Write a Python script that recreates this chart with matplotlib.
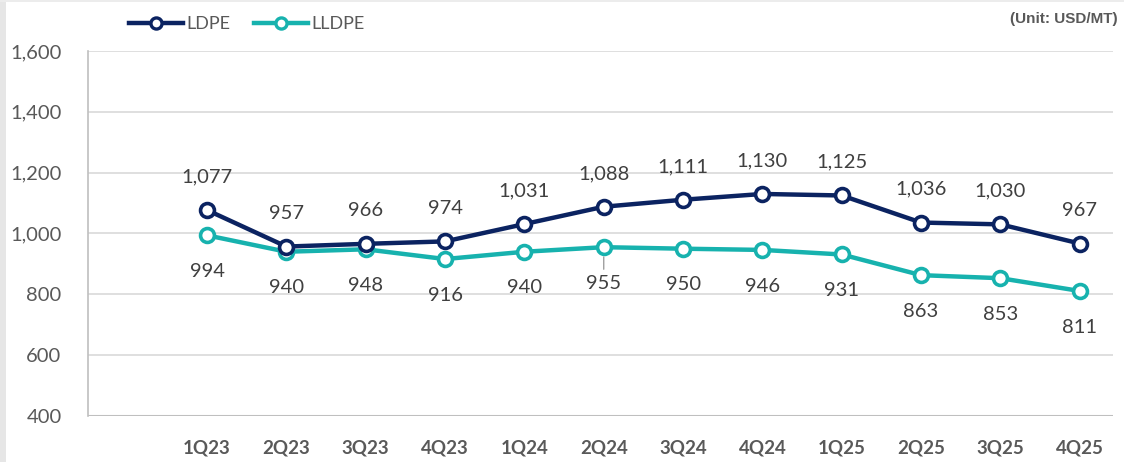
import matplotlib
matplotlib.use('agg')
import matplotlib.pyplot as plt
from matplotlib.lines import Line2D
from matplotlib.patches import Rectangle

# quarters and prices (USD/MT)
quarters = ['1Q23', '2Q23', '3Q23', '4Q23', '1Q24', '2Q24', '3Q24', '4Q24',
            '1Q25', '2Q25', '3Q25', '4Q25']
ldpe = [1077, 957, 966, 974, 1031, 1088, 1111, 1130, 1125, 1036, 1030, 967]
lldpe = [994, 940, 948, 916, 940, 955, 950, 946, 931, 863, 853, 811]
yticks = [400, 600, 800, 1000, 1200, 1400, 1600]

navy = '#0b2361'
teal = '#17b2ae'
gray_txt = '#595959'
plt.rcParams['font.family'] = ['Lato', 'DejaVu Sans']

fig = plt.figure(figsize=(11.24, 4.62), dpi=100)
ax = fig.add_axes([0.0783, 0.0996, 0.912, 0.79])

# light frame of the screenshot
fig.patches.append(Rectangle((0, 0), 6 / 1124, 1, transform=fig.transFigure,
                             facecolor='#e6e6e6', edgecolor='none'))
fig.patches.append(Rectangle((0, 1 - 2 / 462), 1, 2 / 462, transform=fig.transFigure,
                             facecolor='#ececec', edgecolor='none'))

x = list(range(len(quarters)))
ax.plot(x, ldpe, color=navy, lw=3.2, marker='o', ms=10, mfc='white', mec=navy,
        mew=2.6, zorder=4)
ax.plot(x, lldpe, color=teal, lw=3.2, marker='o', ms=10, mfc='white', mec=teal,
        mew=2.6, zorder=3)

for i, v in enumerate(ldpe):
    ax.annotate(f'{v:,}', (i, v), xytext=(0, 24), textcoords='offset points',
                ha='center', va='center', fontsize=14.5, color='#404040')
for i, v in enumerate(lldpe):
    props = None
    if i == 5:
        props = dict(arrowstyle='-', color='#a0a0a0', lw=1, shrinkA=2, shrinkB=7)
    ax.annotate(f'{v:,}', (i, v), xytext=(0, -26), textcoords='offset points',
                ha='center', va='center', fontsize=14.5, color='#404040',
                arrowprops=props)

ax.set_xlim(-1.5, 11.42)
ax.set_ylim(400, 1600)
ax.set_yticks(yticks)
ax.set_yticklabels([f'{t:,}' for t in yticks], fontsize=14.5, color=gray_txt)
ax.set_xticks(x)
ax.set_xticklabels(quarters, fontsize=13.5, fontweight='bold', color=gray_txt)
ax.tick_params(axis='both', length=0)
ax.tick_params(axis='x', pad=17)
ax.tick_params(axis='y', pad=19)
ax.grid(axis='y', color='#d9d9d9', lw=1.2)
ax.set_axisbelow(True)
for s in ['top', 'right', 'bottom']:
    ax.spines[s].set_visible(False)
ax.spines['left'].set_color('#bfbfbf')
ax.spines['left'].set_linewidth(1.2)
ax.axhline(400, color='#bfbfbf', lw=1.5, zorder=1)

handles = [Line2D([], [], color=navy, lw=3.2, marker='o', ms=8, mfc='white',
                  mec=navy, mew=2.4),
           Line2D([], [], color=teal, lw=3.2, marker='o', ms=8, mfc='white',
                  mec=teal, mew=2.4)]
fig.legend(handles, ['LDPE', 'LLDPE'], loc='center left',
           bbox_to_anchor=(0.108, 0.948), ncol=2, frameon=False, fontsize=13,
           labelcolor=gray_txt, handlelength=3.0, handletextpad=0.2,
           columnspacing=1.3, borderaxespad=0)

fig.text(0.994, 0.958, '(Unit: USD/MT)', ha='right', va='center', fontsize=11,
         fontweight='bold', color=gray_txt, family=['Liberation Sans', 'DejaVu Sans'])

fig.savefig('out.png', dpi=100)
